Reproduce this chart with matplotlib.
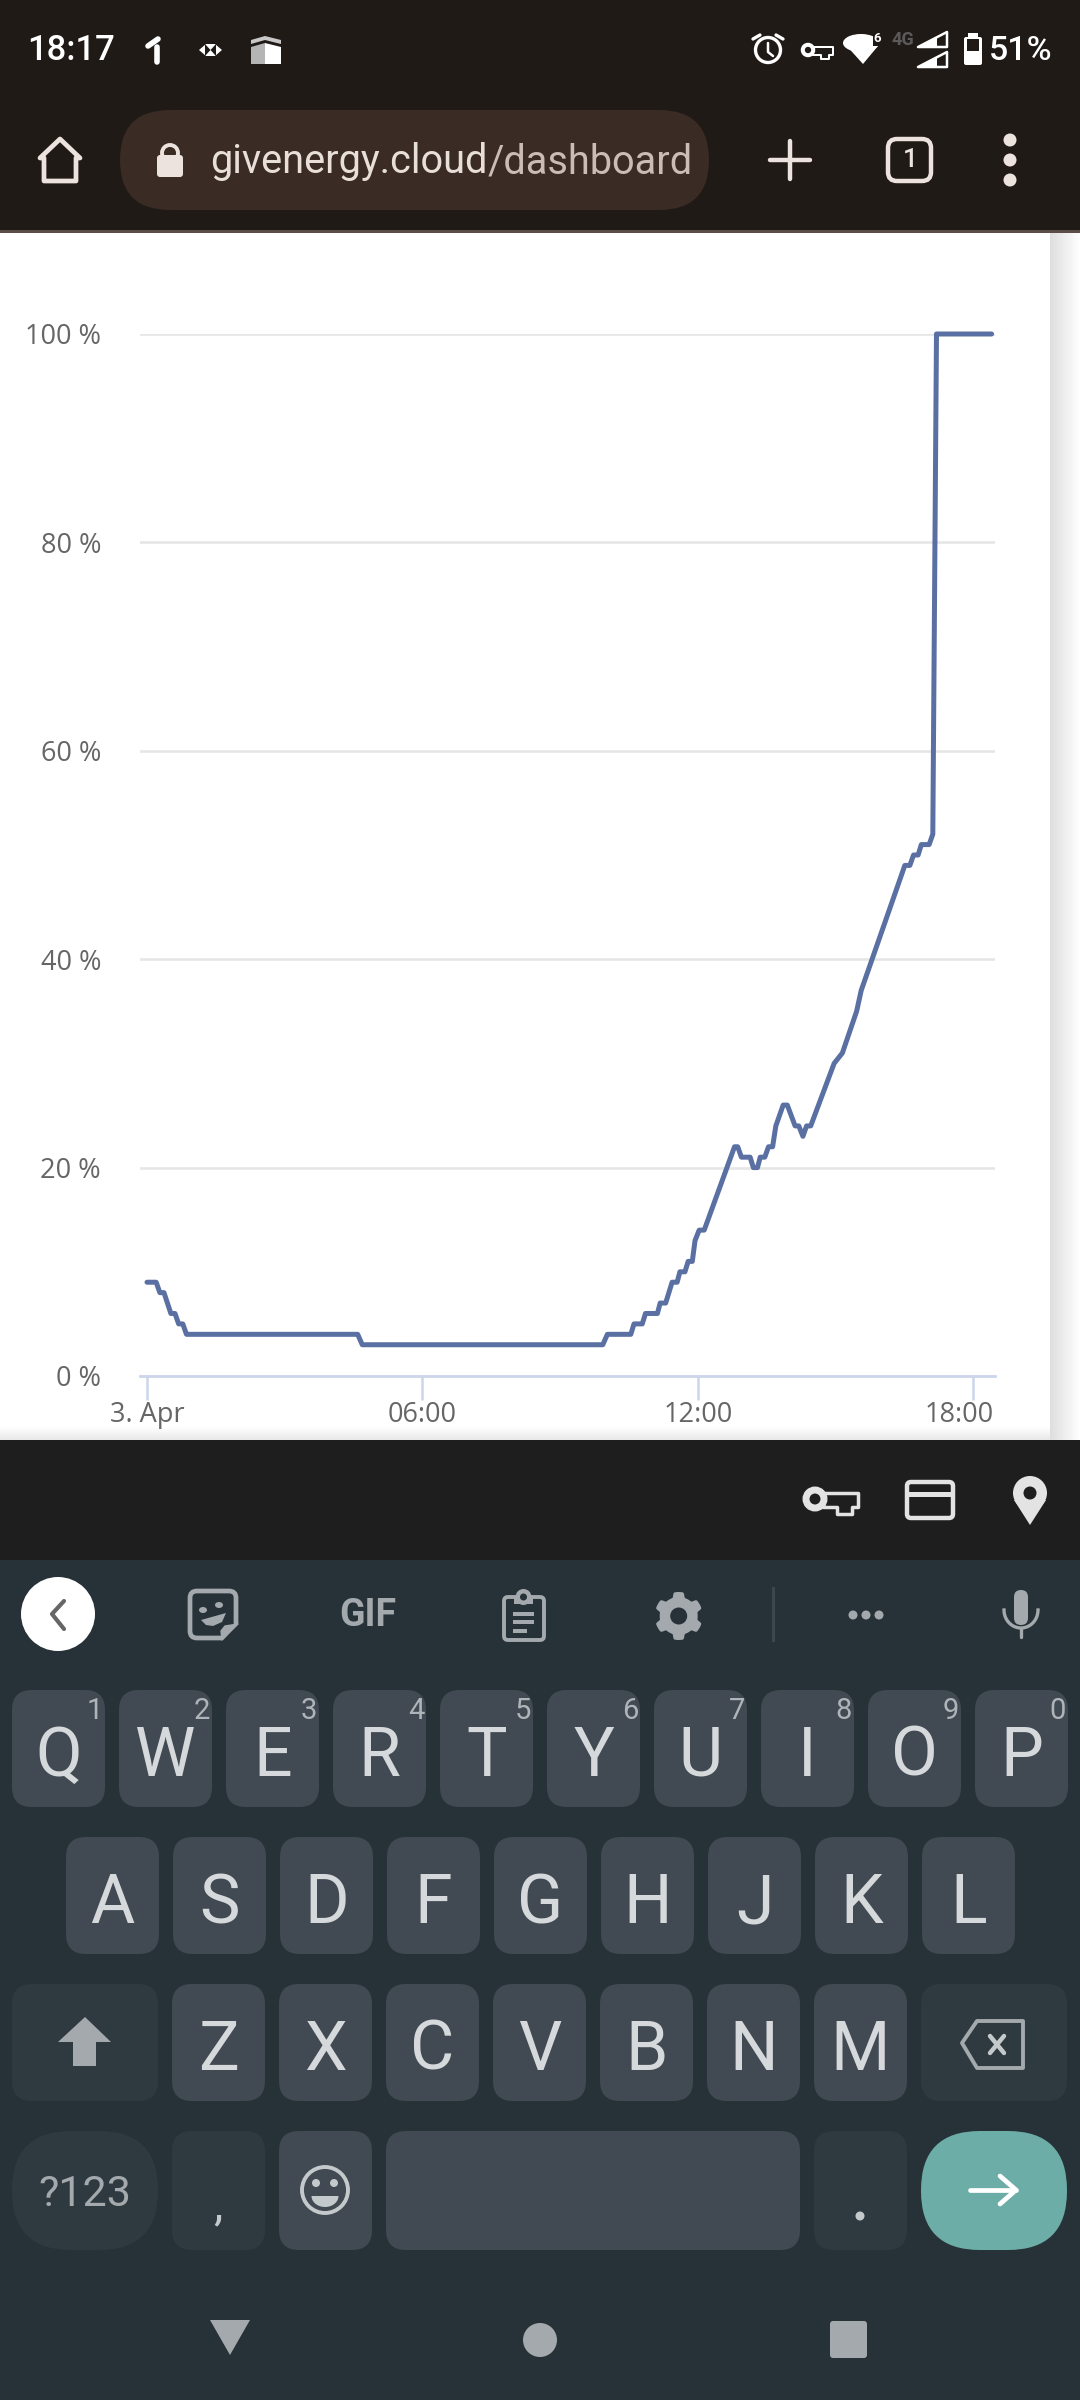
import numpy as np
import matplotlib
matplotlib.use("Agg")
import matplotlib.pyplot as plt
from matplotlib.patches import Circle, Ellipse, FancyBboxPatch, Polygon, Rectangle
from matplotlib.transforms import ScaledTranslation

# Battery level over the day: hours since midnight and percent
hours = [0.0, 0.2, 0.28, 0.37, 0.52, 0.61, 0.69, 0.78, 0.86, 4.59, 4.69, 9.93, 10.03, 10.54,
         10.61, 10.79, 10.86, 11.12, 11.18, 11.3, 11.44, 11.55, 11.61, 11.72, 11.79, 11.88,
         11.94, 12.03, 12.14, 12.8, 12.87, 12.95, 13.14, 13.21, 13.3, 13.36, 13.46, 13.54,
         13.63, 13.7, 13.86, 13.95, 14.12, 14.2, 14.29, 14.37, 14.46, 14.97, 15.15, 15.46,
         15.56, 16.51, 16.62, 16.7, 16.8, 16.87, 17.04, 17.12, 17.2, 18.4]
percent = [9, 9, 8, 8, 6, 6, 5, 5, 4, 4, 3, 3, 4, 4,
           5, 5, 6, 6, 7, 7, 9, 9, 10, 10, 11, 11,
           13, 14, 14, 22, 22, 21, 21, 20, 20, 21, 21, 22,
           22, 24, 26, 26, 24, 24, 23, 24, 24, 30, 31, 35,
           37, 49, 49, 50, 50, 51, 51, 52, 100, 100]
y_ticks = [0, 20, 40, 60, 80, 100]
y_tick_labels = ["0 %", "20 %", "40 %", "60 %", "80 %", "100 %"]
x_ticks = [0, 6, 12, 18]
x_tick_labels = ["3. Apr", "06:00", "12:00", "18:00"]

row1 = list("QWERTYUIOP")
hints = list("1234567890")
row2 = list("ASDFGHJKL")
row3 = list("ZXCVBNM")

W, H = 1080, 2400
BAR = "#201a17"
ACCESS_BG = "#1e1e1e"
KEYBOARD = "#263238"
KEY = "#414a52"
KEY_DARK = "#2f3a40"
ICON = "#a3a9ac"
LIGHT = "#ece3de"
ACCESS = "#e3e3e3"
SOFT = "#c4c9cc"
LETTER = "#d6d9db"

plt.rcParams["font.family"] = ["Roboto", "DejaVu Sans"]
fig = plt.figure(figsize=(W / 100, H / 100), dpi=100, facecolor="white")
bg = fig.add_axes([0, 0, 1, 1])
bg.set_xlim(0, W)
bg.set_ylim(H, 0)
bg.axis("off")


def rect(x0, y0, x1, y1, color, z=1):
    bg.add_patch(Rectangle((x0, y0), x1 - x0, y1 - y0, facecolor=color, edgecolor="none", zorder=z))


def rrect(x0, y0, x1, y1, r, fc, ec="none", lw=0, z=2):
    bg.add_patch(FancyBboxPatch((x0, y0), x1 - x0, y1 - y0, boxstyle=f"round,pad=0,rounding_size={r}",
                                facecolor=fc, edgecolor=ec, linewidth=lw, zorder=z))


def circ(x, y, r, fc, ec="none", lw=0, z=3):
    bg.add_patch(Circle((x, y), r, facecolor=fc, edgecolor=ec, linewidth=lw, zorder=z))


def poly(pts, fc, ec="none", lw=0, z=3):
    bg.add_patch(Polygon(pts, closed=True, facecolor=fc, edgecolor=ec, linewidth=lw, zorder=z, joinstyle="round"))


def line(xs, ys, color, lw=2.5, z=3, cap="round"):
    bg.plot(xs, ys, color=color, lw=lw, zorder=z, solid_capstyle=cap, solid_joinstyle="round")


def label(x, y, s, size, color, ha="center", va="center", weight="normal", z=4):
    return bg.text(x, y, s, fontsize=size, color=color, ha=ha, va=va, fontweight=weight, zorder=z)


def key_icon(x, y, color, back, s=1.0):
    # x, y is the centre of the ring; the blade is a hollow outline
    blade = [(8, -6), (43, -6), (43, 8), (37, 8), (37, 15), (22, 15), (22, 8), (8, 8)]
    poly([(x + a * s, y + b * s) for a, b in blade], back, ec=color, lw=2.5 * s)
    circ(x, y, 9 * s, back, ec=color, lw=5 * s, z=4)


# ---- page regions ----
rect(0, 0, W, 230, BAR)
rect(0, 230, W, 233, "#5a4d45")
rect(0, 1440, W, 1560, ACCESS_BG)
rect(0, 1560, W, H, KEYBOARD)

shade = np.linspace(0.87, 0.995, 30).reshape(1, -1)
bg.imshow(shade, extent=(1050, 1080, 1440, 233), cmap="gray", vmin=0, vmax=1, aspect="auto", zorder=1)
shade = np.linspace(1.0, 0.91, 14).reshape(-1, 1)
bg.imshow(shade, extent=(0, 1050, 1440, 1426), cmap="gray", vmin=0, vmax=1, aspect="auto", zorder=1)
bg.set_xlim(0, W)
bg.set_ylim(H, 0)

# ---- status bar ----
label(27, 50, "18:17", 25, "white", ha="left", weight="medium")
line([148, 158], [46, 39], "white", lw=4)
line([157, 157], [47, 62], "white", lw=4)
poly([(199, 50), (206, 44), (215, 44), (222, 50), (215, 56), (206, 56)], "white")
poly([(205, 44), (205, 56), (210.5, 50)], BAR, z=4)
poly([(216, 44), (216, 56), (210.5, 50)], BAR, z=4)
poly([(251, 40), (265, 36), (281, 40), (281, 44), (265, 40), (251, 44)], "#c8c8c8")
poly([(251, 47), (265, 43), (265, 64), (251, 64)], "#b5b5b5")
poly([(265, 43), (281, 47), (281, 64), (265, 64)], "white")
circ(768, 50, 12.5, "none", ec="white", lw=2.4)
line([768, 768, 773], [43, 52, 56], "white", lw=1.8)
line([753, 760], [39, 35], "white", lw=2.4)
line([776, 783], [35, 39], "white", lw=2.4)
key_icon(808, 50, "white", BAR, s=0.58)
poly([(844, 43), (863, 64), (878, 46)], "white")
bg.add_patch(Ellipse((861, 43), 36, 18, facecolor="white", edgecolor="none", zorder=3))
rect(873, 29, 884, 46, BAR, z=3.5)
label(877, 38, "6", 9.5, "white", weight="bold")
label(903, 40, "4G", 13, "#5a5a5a", weight="bold")
for base in (47, 67):
    poly([(918, base), (947, base), (947, base - 15)], "none", ec="white", lw=1.8)
    poly([(918, base), (937, base), (937, base - 10)], "white")
rrect(964, 37, 982, 65, 2, "white")
rect(968, 33, 978, 37, "white", z=3)
rect(967, 39, 979, 51, BAR, z=3)
label(989, 51, "51%", 24.5, "white", ha="left", weight="medium")

# ---- browser toolbar ----
poly([(40, 158), (60, 139), (80, 158), (76, 158), (76, 181), (44, 181), (44, 158)], "none", ec=LIGHT, lw=3.4)
rrect(120, 110, 709, 210, 50, "#3a2b24")
rrect(157, 155, 183, 177, 3, LIGHT)
circ(170, 153, 8, "none", ec=LIGHT, lw=2.8)

t1 = label(210, 173, "givenergy.cloud", 28.6, "#e9dfd9", ha="left", va="baseline")
fig.canvas.draw()
url_x = t1.get_window_extent().x1
t2 = label(url_x, 173, "/dashboard", 28.6, "#c9bdb6", ha="left", va="baseline")
t2.set_clip_on(True)
t2.set_clip_path(Rectangle((url_x, 120), 693 - url_x, 80, transform=bg.transData))

line([790, 790], [141, 179], LIGHT, lw=3.2)
line([770, 810], [160, 160], LIGHT, lw=3.2)
rrect(888, 139, 931, 181, 9, "none", ec=LIGHT, lw=3.2)
label(910, 160, "1", 19, LIGHT, weight="medium")
for dy in (-20, 0, 20):
    circ(1010, 160 + dy, 6.5, LIGHT)

# ---- chart ----
left, right, top, bottom = 140, 995, 334, 1376
hour_px = 45.9
ax = fig.add_axes([left / W, 1 - bottom / H, (right - left) / W, (bottom - top) / H])
ax.patch.set_alpha(0)
ax.set_xlim((left - 147) / hour_px, (right - 147) / hour_px)
ax.set_ylim(0, 100)
ax.plot(hours, percent, color="#5a70a3", lw=3.6, solid_joinstyle="round", solid_capstyle="round",
        clip_on=False, zorder=3)

ax.set_yticks(y_ticks)
ax.set_yticklabels(y_tick_labels, fontfamily="Open Sans", fontsize=19.5, color="#666666")
ax.set_xticks(x_ticks)
ax.set_xticklabels(x_tick_labels, fontfamily="Open Sans", fontsize=19.5, color="#666666")
ax.tick_params(axis="y", length=0, pad=28)
ax.tick_params(axis="x", length=17, width=1.8, color="#ccd6eb", pad=1)
ax.grid(axis="y", color="#e6e6e6", lw=1.9)
ax.set_axisbelow(True)
for name in ("left", "right", "top"):
    ax.spines[name].set_visible(False)
ax.spines["bottom"].set_color("#ccd6eb")
ax.spines["bottom"].set_linewidth(2)

# last x label is pushed inside the plot edge, as the page does it
last = ax.get_xticklabels()[-1]
last.set_ha("right")
last.set_transform(last.get_transform() + ScaledTranslation(21 / 100, 0, fig.dpi_scale_trans))

# ---- accessory bar ----
key_icon(815, 1499, ACCESS, ACCESS_BG, s=1.0)
rrect(907, 1482, 953, 1518, 4, "none", ec=ACCESS, lw=3.2)
rect(907, 1492, 953, 1497, ACCESS, z=3)
circ(1030, 1493, 17, ACCESS)
poly([(1014, 1500), (1046, 1500), (1030, 1525)], ACCESS)
circ(1030, 1493, 6.5, ACCESS_BG, z=4)

# ---- keyboard top row ----
circ(58, 1614, 37, "white")
line([64, 52, 64], [1601, 1614, 1629], "#666666", lw=3)
rrect(190, 1591, 236, 1638, 7, "none", ec=ICON, lw=3.4)
poly([(222, 1641), (240, 1622), (240, 1642)], KEYBOARD, z=4)
poly([(222, 1640), (238, 1624), (225, 1626), (221, 1631)], ICON, ec=ICON, lw=1, z=5)
bg.add_patch(Ellipse((203, 1610), 8, 6, facecolor=ICON, edgecolor="none", zorder=3))
bg.add_patch(Ellipse((219, 1605), 8, 6, facecolor=ICON, edgecolor="none", zorder=3))
poly([(201, 1620), (226, 1613), (222, 1622), (213, 1626), (206, 1625)], ICON)
label(368, 1615, "GIF", 27, ICON, weight="bold")
rrect(504, 1597, 544, 1640, 4, "none", ec=ICON, lw=2.8)
rect(514, 1597, 533, 1604, ICON, z=3)
circ(523.5, 1597, 8, ICON)
circ(523.5, 1597, 3.5, KEYBOARD, z=4)
for dy, x1 in ((1612, 534), (1620, 534), (1629, 527)):
    rect(513, dy, x1, dy + 4, ICON, z=3)
gear_t = np.linspace(0, 2 * np.pi, 145)
gear_r = 21.5 + 2.5 * np.clip(-3 * np.cos(6 * gear_t), -1, 1)
poly(np.column_stack([678.7 + gear_r * np.cos(gear_t), 1616 + gear_r * np.sin(gear_t)]), ICON)
circ(678.7, 1616, 8.5, KEYBOARD, z=4)
rect(772, 1587, 775, 1642, "#3c474d")
for dx in (-13, 0, 13):
    circ(866 + dx, 1615, 4.5, ICON)
rrect(1014, 1590, 1028, 1625, 7, ICON)
arc_t = np.linspace(0, np.pi, 30)
bg.plot(1021 + 17 * np.cos(arc_t), 1610 + 18 * np.sin(arc_t), color=ICON, lw=2.4, zorder=3)
line([1021, 1021], [1628, 1637], ICON, lw=2.4)

# ---- keys ----
KEY_W = 93
PITCH = 107
for i, (letter, hint) in enumerate(zip(row1, hints)):
    x = 12 + i * PITCH
    rrect(x, 1690, x + KEY_W, 1807, 20, KEY)
    label(x + KEY_W / 2, 1776, letter, 49, LETTER, va="baseline")
    label(x + 83, 1711, hint, 21, "#aeb4b8")
for i, letter in enumerate(row2):
    x = 66 + i * PITCH
    rrect(x, 1837, x + KEY_W, 1954, 20, KEY)
    label(x + KEY_W / 2, 1923, letter, 49, LETTER, va="baseline")
for i, letter in enumerate(row3):
    x = 172 + i * PITCH
    rrect(x, 1984, x + KEY_W, 2101, 20, KEY)
    label(x + KEY_W / 2, 2070, letter, 49, LETTER, va="baseline")

rrect(12, 1984, 158, 2101, 20, KEY_DARK)
poly([(85, 2017), (111, 2042), (96, 2042), (96, 2066), (73, 2066), (73, 2042), (58, 2042)], ICON)
rrect(921, 1984, 1067, 2101, 20, KEY_DARK)
poly([(962, 2043), (977, 2021), (1023, 2021), (1023, 2068), (977, 2068)], "none", ec=ICON, lw=2.8)
line([990, 1004], [2036, 2053], SOFT, lw=3.2)
line([1004, 990], [2036, 2053], SOFT, lw=3.2)

rrect(12, 2131, 158, 2250, 59, KEY_DARK)
label(85, 2194, "?123", 31, ICON)
rrect(172, 2131, 265, 2250, 20, KEY_DARK)
label(218, 2219, ",", 34, SOFT, va="baseline")
rrect(279, 2131, 372, 2250, 20, KEY)
circ(325, 2190, 23, "none", ec=SOFT, lw=2.8)
circ(316, 2183, 4, SOFT)
circ(334, 2183, 4, SOFT)
smile_t = np.linspace(0, np.pi, 30)
poly(np.column_stack([325 + 13.5 * np.cos(smile_t), 2196 + 11 * np.sin(smile_t)]), SOFT)
rrect(386, 2131, 800, 2250, 20, KEY)
rrect(814, 2131, 907, 2250, 20, KEY_DARK)
circ(860, 2216, 4.5, SOFT)
rrect(921, 2131, 1067, 2250, 59, "#6dada7")
line([970, 1016], [2190, 2190], "white", lw=3.4)
line([1000, 1016, 1000], [2176, 2190, 2204], "white", lw=3.4)

# ---- nav bar ----
poly([(210, 2320), (250, 2320), (230, 2355)], ICON)
circ(540, 2340, 17, ICON)
rrect(830, 2321, 867, 2358, 3, ICON)

fig.savefig("out.png", dpi=100, facecolor="white")
